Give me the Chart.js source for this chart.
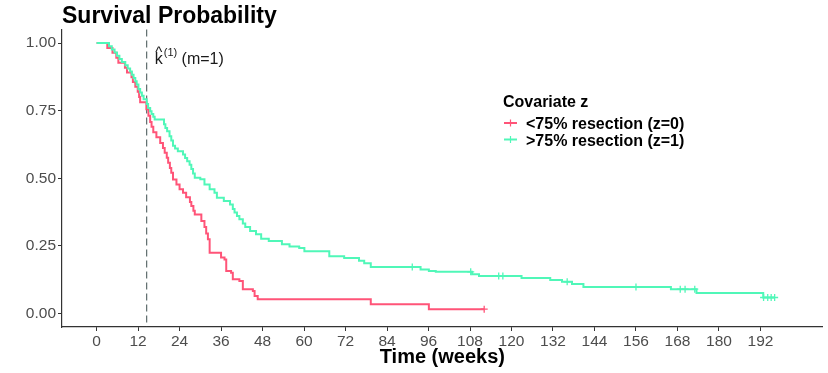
<!DOCTYPE html>
<html>
<head>
<meta charset="utf-8">
<script src="https://cdn.jsdelivr.net/npm/chart.js@4.4.1/dist/chart.umd.min.js"></script>
<style>
  html, body { margin: 0; padding: 0; background: #ffffff; }
  #wrap { width: 828px; height: 373px; }
</style>
</head>
<body>
<div id="wrap"><canvas id="c" width="828" height="373"></canvas></div>
<script>
// ---- data ----
const chartTitle = "Survival Probability";
const xAxisTitle = "Time (weeks)";
const legendTitle = "Covariate z";
const seriesNames = ["<75% resection (z=0)", ">75% resection (z=1)"];
const xTicks = [0, 12, 24, 36, 48, 60, 72, 84, 96, 108, 120, 132, 144, 156, 168, 180, 192];
const yTicks = [0, 0.25, 0.5, 0.75, 1];
const yTickLabels = ["0.00", "0.25", "0.50", "0.75", "1.00"];
const kHat = 14.5;

// group z=0 (red): step times and survival
const redTimes = [0, 3.1, 4.6, 5.7, 6.3, 8.2, 8.8, 10.1, 10.5, 11.2, 11.9, 12.3, 12.6, 14.4, 15.0, 15.5, 15.9, 16.4, 17.3, 18.4, 19.2, 19.7, 20.3, 20.7, 21.2, 21.6, 22.1, 23.1, 24.0, 25.0, 25.9, 27.0, 27.4, 28.0, 28.4, 30.3, 31.2, 31.7, 32.2, 32.7, 36.0, 37.0, 37.5, 38.9, 39.4, 41.3, 42.3, 45.2, 45.7, 46.6, 79.3, 96.1, 112.1];
const redSurv  = [1, 0.982, 0.964, 0.946, 0.927, 0.909, 0.891, 0.873, 0.856, 0.838, 0.82, 0.8, 0.781, 0.755, 0.731, 0.708, 0.69, 0.67, 0.652, 0.63, 0.612, 0.594, 0.576, 0.557, 0.538, 0.52, 0.495, 0.477, 0.459, 0.446, 0.43, 0.412, 0.397, 0.38, 0.366, 0.342, 0.32, 0.296, 0.274, 0.225, 0.207, 0.2, 0.157, 0.151, 0.127, 0.12, 0.09, 0.083, 0.065, 0.053, 0.034, 0.016, 0.016];
const redCensorTimes = [112.1];
const redCensorSurv  = [0.016];

// group z=1 (green)
const greenTimes = [0, 3.6, 4.4, 5.2, 5.9, 6.6, 7.3, 8.3, 9.0, 9.7, 10.2, 10.7, 11.2, 11.6, 12.1, 12.6, 13.1, 13.6, 14.5, 14.9, 15.5, 15.9, 16.4, 16.8, 19.5, 19.9, 20.4, 21.1, 21.6, 22.1, 22.7, 23.5, 25.0, 25.6, 26.2, 26.9, 27.4, 27.9, 28.4, 30.0, 31.2, 32.7, 34.1, 34.8, 36.8, 38.6, 39.4, 39.9, 40.6, 41.3, 42.3, 43.0, 44.4, 46.1, 47.6, 49.8, 53.6, 55.8, 58.6, 60.1, 67.3, 71.6, 75.9, 77.4, 79.3, 93.7, 96.1, 98.1, 108.6, 110.6, 122.9, 131.2, 134.6, 137.5, 140.8, 166.1, 173.5, 192.8, 196.1];
const greenSurv  = [1, 0.988, 0.976, 0.965, 0.953, 0.941, 0.93, 0.918, 0.906, 0.895, 0.883, 0.871, 0.859, 0.847, 0.83, 0.817, 0.805, 0.792, 0.775, 0.76, 0.748, 0.738, 0.727, 0.717, 0.7, 0.686, 0.674, 0.655, 0.64, 0.62, 0.61, 0.6, 0.588, 0.575, 0.563, 0.55, 0.534, 0.518, 0.502, 0.496, 0.477, 0.459, 0.446, 0.428, 0.416, 0.403, 0.386, 0.373, 0.36, 0.348, 0.333, 0.32, 0.305, 0.293, 0.276, 0.268, 0.256, 0.248, 0.242, 0.23, 0.212, 0.205, 0.195, 0.186, 0.172, 0.163, 0.157, 0.154, 0.145, 0.139, 0.131, 0.124, 0.117, 0.109, 0.098, 0.09, 0.076, 0.059, 0.059];
const greenCensorTimes = [91.3, 108.2, 116.3, 117.5, 136.1, 156.0, 168.8, 170.2, 173.0, 192.9, 194.1, 195.1, 196.1];
const greenCensorSurv  = [0.172, 0.154, 0.139, 0.139, 0.117, 0.098, 0.09, 0.09, 0.09, 0.059, 0.059, 0.059, 0.059];

// ---- styles ----
const RED = "#FF5478";
const GREEN = "#50F7B8";
const FONT = "'Liberation Sans', Arial, Helvetica, sans-serif";
const AXIS = "#333333";
const TICKTXT = "#4D4D4D";

function pts(xs, ys) { return xs.map((x, i) => ({ x: x, y: ys[i] })); }

const overlay = {
  id: "overlay",
  beforeDatasetsDraw(chart) {
    const { ctx, chartArea, scales } = chart;
    const x = scales.x.getPixelForValue(kHat);
    ctx.save();
    ctx.strokeStyle = "#3E4F4F";
    ctx.lineWidth = 1;
    ctx.setLineDash([7, 4]);
    ctx.beginPath();
    ctx.moveTo(x, chartArea.top);
    ctx.lineTo(x, chartArea.bottom);
    ctx.stroke();
    ctx.restore();
  },
  afterDraw(chart) {
    const { ctx, chartArea, scales } = chart;
    ctx.save();
    // title
    ctx.fillStyle = "#000000";
    ctx.font = "bold 23px " + FONT;
    ctx.textBaseline = "alphabetic";
    ctx.textAlign = "left";
    ctx.fillText(chartTitle, chartArea.left, 23);

    // annotation k-hat
    const kx = scales.x.getPixelForValue(kHat) + 8;
    ctx.fillStyle = "#1A1A1A";
    ctx.font = "16px " + FONT;
    ctx.fillText("k", kx, 64);
    const kw = ctx.measureText("k").width;
    ctx.font = "15px " + FONT;
    const hw = ctx.measureText("^").width;
    ctx.fillText("^", kx + kw / 2 - hw / 2, 57);
    ctx.font = "11px " + FONT;
    ctx.fillText("(1)", kx + kw + 1, 56);
    const sw = ctx.measureText("(1)").width;
    ctx.font = "16px " + FONT;
    ctx.fillText(" (m=1)", kx + kw + 1 + sw, 64);

    // legend
    ctx.fillStyle = "#000000";
    ctx.font = "bold 16px " + FONT;
    ctx.fillText(legendTitle, 503, 107);
    const colors = [RED, GREEN];
    const rowY = [123, 139.5];
    for (let i = 0; i < seriesNames.length; i++) {
      const cy = rowY[i];
      ctx.strokeStyle = colors[i];
      ctx.lineWidth = 2;
      ctx.beginPath();
      ctx.moveTo(504, cy);
      ctx.lineTo(517, cy);
      ctx.stroke();
      ctx.lineWidth = 1.2;
      ctx.beginPath();
      ctx.moveTo(510.5, cy - 3.5);
      ctx.lineTo(510.5, cy + 3.5);
      ctx.stroke();
      ctx.fillStyle = "#000000";
      ctx.font = "bold 16px " + FONT;
      ctx.fillText(seriesNames[i], 526, cy + 6);
    }
    ctx.restore();
  }
};

const ctx = document.getElementById("c").getContext("2d");
new Chart(ctx, {
  type: "line",
  data: {
    datasets: [
      { label: "gc", type: "scatter", data: pts(greenCensorTimes, greenCensorSurv), pointStyle: "cross", pointRadius: 3.5, borderColor: GREEN, borderWidth: 1.3, backgroundColor: GREEN, order: 0, showLine: false },
      { label: "rc", type: "scatter", data: pts(redCensorTimes, redCensorSurv), pointStyle: "cross", pointRadius: 3.5, borderColor: RED, borderWidth: 1.3, backgroundColor: RED, order: 0, showLine: false },
      { label: seriesNames[1], data: pts(greenTimes, greenSurv), stepped: "before", borderColor: GREEN, borderWidth: 2, pointRadius: 0, fill: false, order: 1 },
      { label: seriesNames[0], data: pts(redTimes, redSurv), stepped: "before", borderColor: RED, borderWidth: 2, pointRadius: 0, fill: false, order: 2 }
    ]
  },
  options: {
    responsive: false,
    animation: false,
    events: [],
    layout: { padding: { top: 29.5, right: 4, left: 0, bottom: 0 } },
    plugins: { legend: { display: false }, tooltip: { enabled: false }, title: { display: false } },
    scales: {
      x: {
        type: "linear",
        min: -10, max: 210,
        afterFit(s) { s.height = 46; },
        afterBuildTicks(s) { s.ticks = xTicks.map(v => ({ value: v })); },
        ticks: { autoSkip: false, maxRotation: 0, color: TICKTXT, font: { family: FONT, size: 15.5 }, padding: 1, callback: (v) => String(v) },
        grid: { display: true, drawOnChartArea: false, drawTicks: true, tickLength: 4, color: AXIS, lineWidth: 1 },
        border: { display: true, color: AXIS, width: 1.2 },
        title: { display: true, text: xAxisTitle, color: "#000000", font: { family: FONT, size: 20, weight: "bold" }, padding: { top: 0, bottom: 4 } }
      },
      y: {
        type: "linear",
        min: -0.05, max: 1.05,
        afterFit(s) { s.width = 62; },
        afterBuildTicks(s) { s.ticks = yTicks.map(v => ({ value: v })); },
        ticks: { color: TICKTXT, font: { family: FONT, size: 15.5 }, padding: 2, callback: (v, i) => yTickLabels[i] },
        grid: { display: true, drawOnChartArea: false, drawTicks: true, tickLength: 4, color: AXIS, lineWidth: 1 },
        border: { display: true, color: AXIS, width: 1.2 }
      }
    }
  },
  plugins: [overlay]
});
</script>
</body>
</html>
